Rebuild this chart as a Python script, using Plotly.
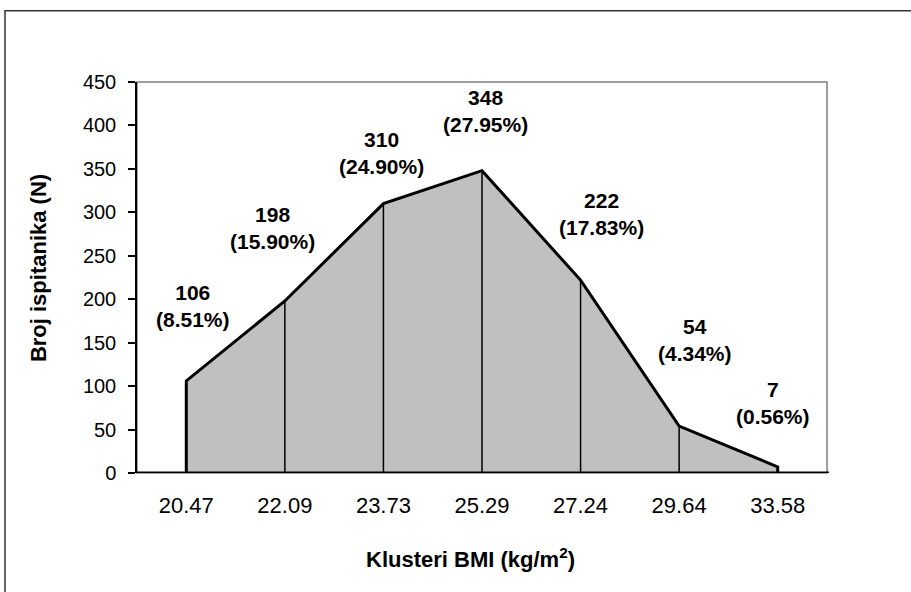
import plotly.graph_objects as go

categories = ["20.47", "22.09", "23.73", "25.29", "27.24", "29.64", "33.58"]
counts = [106, 198, 310, 348, 222, 54, 7]
percents = ["8.51%", "15.90%", "24.90%", "27.95%", "17.83%", "4.34%", "0.56%"]

# label offsets (pixels) relative to each point
label_dx = [7, -12, -2, 3, 21, 16, -5]
label_dy = [75, 73, 51, 60, 66, 86, 64]

FONT = "Liberation Sans, Arial, sans-serif"
idx = list(range(len(categories)))
fig = go.Figure()

# filled area
fig.add_trace(go.Scatter(x=idx, y=counts, mode="lines", fill="tozeroy",
                         fillcolor="#C0C0C0", line=dict(color="rgba(0,0,0,0)", width=0),
                         hoverinfo="skip", showlegend=False))

# interior drop lines
dx, dy = [], []
for i, v in zip(idx[1:-1], counts[1:-1]):
    dx += [i, i, None]
    dy += [0, v, None]
fig.add_trace(go.Scatter(x=dx, y=dy, mode="lines", line=dict(color="black", width=1.5),
                         hoverinfo="skip", showlegend=False))

# outline
ox = [idx[0]] + idx + [idx[-1]]
oy = [0] + counts + [0]
fig.add_trace(go.Scatter(x=ox, y=oy, mode="lines", line=dict(color="black", width=3),
                         hoverinfo="skip", showlegend=False))

for i, v, p, sx, sy in zip(idx, counts, percents, label_dx, label_dy):
    fig.add_annotation(x=i, y=v, xref="x", yref="y", text=f"<b>{v}<br>({p})</b>", showarrow=False,
                       xshift=sx, yshift=sy, xanchor="center", yanchor="middle",
                       font=dict(family=FONT, size=21, color="black"))

fig.add_annotation(x=0.483, y=-0.217, xref="paper", yref="paper",
                   text="<b>Klusteri BMI (kg/m<sup>2</sup>)</b>", showarrow=False,
                   xanchor="center", yanchor="middle",
                   font=dict(family=FONT, size=22, color="black"))
fig.add_annotation(x=-0.1435, y=0.524, xref="paper", yref="paper",
                   text="<b>Broj ispitanika (N)</b>", showarrow=False, textangle=-90,
                   xanchor="center", yanchor="middle",
                   font=dict(family=FONT, size=22, color="black"))

# plot frame (gray) and outer border
fig.add_shape(type="rect", xref="paper", yref="paper", x0=0, y0=0, x1=1, y1=1,
              line=dict(color="#808080", width=1.5), layer="below")
fig.add_shape(type="rect", xref="paper", yref="paper", x0=-0.1913, y0=-0.45, x1=1.25, y1=1.182,
              line=dict(color="#333333", width=1.5), layer="below")

fig.update_layout(
    width=911, height=592,
    margin=dict(l=137, r=84, t=82, b=119),
    paper_bgcolor="white", plot_bgcolor="white",
    font=dict(family=FONT, color="black"),
    xaxis=dict(range=[-0.5, 6.5], showgrid=False, zeroline=False,
               showline=False, ticks="", tickmode="array", tickvals=idx, ticktext=categories,
               tickfont=dict(size=22), ticklabelstandoff=17, fixedrange=True),
    yaxis=dict(range=[0, 450], dtick=50, showgrid=False, zeroline=False,
               showline=True, linecolor="black", linewidth=1.5,
               ticks="outside", ticklen=7, tickwidth=1.5, tickcolor="black",
               tickfont=dict(size=20), ticklabelstandoff=8, fixedrange=True),
)

# x baseline (thick)
fig.add_shape(type="line", xref="paper", yref="y", x0=0, x1=1.003, y0=0, y1=0,
              line=dict(color="black", width=3))

fig.write_html("out.html", config={"displayModeBar": False},
               post_script="document.body.style.margin='0px';")
